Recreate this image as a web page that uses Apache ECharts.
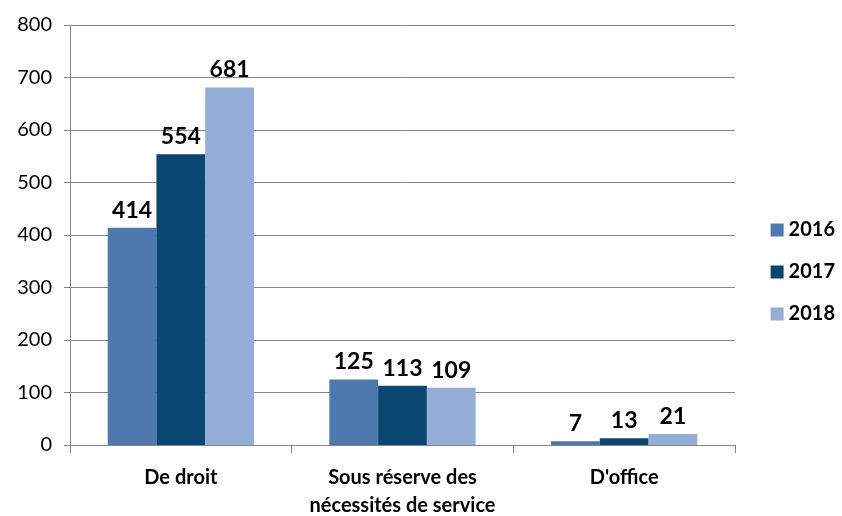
<!DOCTYPE html>
<html>
<head>
<meta charset="utf-8">
<script src="https://cdn.jsdelivr.net/npm/echarts@6/dist/echarts.min.js"></script>
<style>
  html, body { margin: 0; padding: 0; background: #fff; }
  #main { width: 842px; height: 516px; }
</style>
</head>
<body>
<div id="main"></div>
<script>
var categories = ['De droit', 'Sous réserve des\nnécessités de service', "D'office"];
var years = ['2016', '2017', '2018'];
var values2016 = [414, 125, 7];
var values2017 = [554, 113, 13];
var values2018 = [681, 109, 21];
var colors = ['#4E79AE', '#0A4670', '#94ADD7'];

var fontFam = 'Lato, "Open Sans", sans-serif';

function makeSeries(name, data, color) {
  return {
    name: name,
    type: 'bar',
    data: data,
    barGap: '0%',
    barCategoryGap: '34%',
    itemStyle: { color: color },
    label: {
      show: true,
      position: 'top',
      distance: 6,
      color: '#000',
      fontWeight: 'bold',
      fontSize: 23,
      fontFamily: fontFam
    }
  };
}

var chart = echarts.init(document.getElementById('main'));
chart.setOption({
  animation: false,
  grid: { left: 70, right: 107, top: 25, bottom: 71, outerBoundsMode: 'none', containLabel: false },
  legend: {
    orient: 'vertical',
    right: 2,
    top: 215,
    itemWidth: 13,
    itemHeight: 13,
    itemGap: 22,
    icon: 'rect',
    textStyle: { fontSize: 20, fontWeight: 'bold', color: '#000', fontFamily: fontFam },
    data: years
  },
  xAxis: {
    type: 'category',
    data: categories,
    axisLine: { lineStyle: { color: '#868686', width: 1 } },
    axisTick: { show: true, interval: 0, length: 8, lineStyle: { color: '#868686' } },
    axisLabel: {
      interval: 0,
      hideOverlap: false,
      color: '#000',
      fontSize: 20,
      fontWeight: 'bold',
      fontFamily: fontFam,
      margin: 19,
      lineHeight: 28
    }
  },
  yAxis: {
    type: 'value',
    min: 0,
    max: 800,
    interval: 100,
    axisLine: { show: true, lineStyle: { color: '#868686', width: 1 } },
    axisTick: { show: true, length: 6, lineStyle: { color: '#868686' } },
    splitLine: { lineStyle: { color: '#868686', width: 1 } },
    axisLabel: {
      color: '#000',
      fontSize: 20,
      fontFamily: fontFam,
      margin: 18
    }
  },
  series: [
    makeSeries(years[0], values2016, colors[0]),
    makeSeries(years[1], values2017, colors[1]),
    makeSeries(years[2], values2018, colors[2])
  ]
});
</script>
</body>
</html>
